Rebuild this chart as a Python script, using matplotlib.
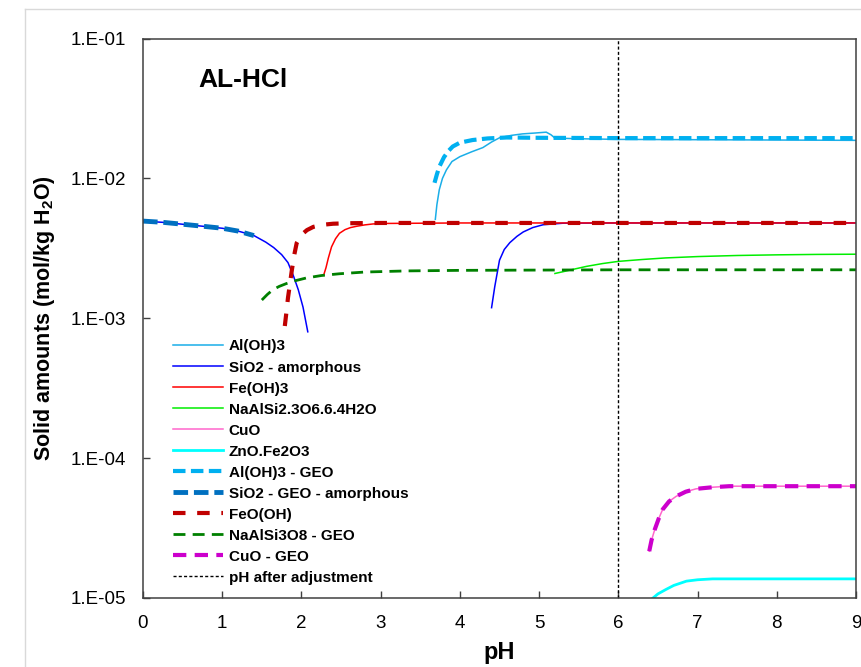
import numpy as np
import matplotlib
matplotlib.use("Agg")
import matplotlib.pyplot as plt
from matplotlib.lines import Line2D

plt.rcParams['font.family'] = ['Liberation Sans', 'DejaVu Sans']
plt.rcParams['mathtext.default'] = 'regular'

# ---------------- data ----------------
aloh3_x = [3.69, 3.71, 3.74, 3.78, 3.83, 3.90, 4.00, 4.15, 4.29, 4.40, 4.50, 4.65, 4.79, 4.95, 5.09, 5.15, 5.20, 5.5, 6, 7, 8, 9]
aloh3_y = [5.1e-3, 6.5e-3, 8.3e-3, 1.0e-2, 1.15e-2, 1.32e-2, 1.43e-2, 1.55e-2, 1.66e-2, 1.82e-2, 1.95e-2, 2.03e-2,
           2.08e-2, 2.11e-2, 2.14e-2, 2.05e-2, 1.94e-2, 1.92e-2, 1.90e-2, 1.89e-2, 1.88e-2, 1.87e-2]

sio2_x1 = [0, 0.25, 0.5, 0.75, 1.0, 1.2, 1.4, 1.55, 1.65, 1.75, 1.83, 1.90, 1.96, 2.02, 2.08]
sio2_y1 = [4.95e-3, 4.85e-3, 4.7e-3, 4.55e-3, 4.4e-3, 4.2e-3, 3.9e-3, 3.5e-3, 3.2e-3, 2.85e-3, 2.5e-3, 2.0e-3,
           1.6e-3, 1.2e-3, 8.0e-4]
sio2_x2 = [4.40, 4.44, 4.50, 4.56, 4.63, 4.72, 4.80, 4.92, 5.05, 5.3, 6, 7, 8, 9]
sio2_y2 = [1.19e-3, 1.68e-3, 2.6e-3, 3.1e-3, 3.47e-3, 3.85e-3, 4.14e-3, 4.45e-3, 4.66e-3, 4.78e-3, 4.8e-3,
           4.8e-3, 4.8e-3, 4.8e-3]

feoh3_x = [2.28, 2.31, 2.34, 2.38, 2.43, 2.48, 2.55, 2.62, 2.70, 2.80, 2.90, 3.0, 4, 5, 6, 7, 8, 9]
feoh3_y = [2.03e-3, 2.3e-3, 2.7e-3, 3.24e-3, 3.7e-3, 4.05e-3, 4.3e-3, 4.45e-3, 4.55e-3, 4.65e-3, 4.72e-3,
           4.76e-3, 4.8e-3, 4.8e-3, 4.8e-3, 4.8e-3, 4.8e-3, 4.8e-3]

na23_x = [5.2, 5.3, 5.45, 5.6, 5.8, 6.0, 6.3, 6.6, 7.0, 7.5, 8, 8.5, 9]
na23_y = [2.09e-3, 2.15e-3, 2.25e-3, 2.35e-3, 2.46e-3, 2.55e-3, 2.63e-3, 2.7e-3, 2.76e-3, 2.81e-3, 2.84e-3,
          2.86e-3, 2.87e-3]

cuo_x = [6.39, 6.42, 6.46, 6.51, 6.56, 6.64, 6.73, 6.85, 6.98, 7.2, 7.4, 8, 9]
cuo_y = [2.16e-5, 2.6e-5, 3.09e-5, 3.7e-5, 4.3e-5, 4.9e-5, 5.33e-5, 5.75e-5, 6.03e-5, 6.2e-5, 6.3e-5,
         6.3e-5, 6.3e-5]

znofe_x = [6.4, 6.5, 6.6, 6.7, 6.86, 7.0, 7.19, 7.5, 8, 9]
znofe_y = [9.6e-6, 1.07e-5, 1.15e-5, 1.23e-5, 1.32e-5, 1.35e-5, 1.37e-5, 1.37e-5, 1.37e-5, 1.37e-5]

aloh3_geo_x = [3.68, 3.71, 3.74, 3.80, 3.86, 3.91, 4.00, 4.16, 4.35, 4.59, 5, 6, 7, 8, 9]
aloh3_geo_y = [9.3e-3, 1.07e-2, 1.21e-2, 1.42e-2, 1.58e-2, 1.69e-2, 1.8e-2, 1.88e-2, 1.93e-2, 1.96e-2,
               1.95e-2, 1.94e-2, 1.94e-2, 1.94e-2, 1.94e-2]

sio2_geo_x = [0, 0.25, 0.5, 0.75, 1.0, 1.2, 1.4]
sio2_geo_y = [4.95e-3, 4.85e-3, 4.7e-3, 4.55e-3, 4.4e-3, 4.2e-3, 3.9e-3]

feooh_x = [1.79, 1.81, 1.83, 1.86, 1.88, 1.91, 1.94, 2.0, 2.07, 2.15, 2.27, 2.4, 2.6, 3, 4, 5, 6, 7, 8, 9]
feooh_y = [8.8e-4, 1.1e-3, 1.4e-3, 1.85e-3, 2.23e-3, 2.85e-3, 3.45e-3, 3.95e-3, 4.27e-3, 4.5e-3, 4.66e-3,
           4.74e-3, 4.78e-3, 4.8e-3, 4.8e-3, 4.8e-3, 4.8e-3, 4.8e-3, 4.8e-3, 4.8e-3]

albite_x = [1.5, 1.57, 1.64, 1.72, 1.81, 1.93, 2.06, 2.25, 2.48, 2.8, 3.33, 4, 5, 6, 7, 8, 9]
albite_y = [1.35e-3, 1.48e-3, 1.6e-3, 1.69e-3, 1.77e-3, 1.86e-3, 1.94e-3, 2.02e-3, 2.08e-3, 2.14e-3, 2.18e-3,
            2.2e-3, 2.21e-3, 2.22e-3, 2.22e-3, 2.22e-3, 2.22e-3]

ph_adjust = 6.0

y_ticks = [1e-5, 1e-4, 1e-3, 1e-2, 1e-1]
y_ticklabels = ['1.E-05', '1.E-04', '1.E-03', '1.E-02', '1.E-01']
x_ticks = [0, 1, 2, 3, 4, 5, 6, 7, 8, 9]

# ---------------- figure ----------------
fig = plt.figure(figsize=(8.61, 6.67), dpi=100)
ax = fig.add_axes([143/861, 1-598/667, 713/861, 559.5/667])

# outer light frame
fig.add_artist(Line2D([25/861, 25/861], [0, 1-9/667], transform=fig.transFigure, color='#D9D9D9', lw=1))
fig.add_artist(Line2D([25/861, 1], [1-9/667, 1-9/667], transform=fig.transFigure, color='#D9D9D9', lw=1))

ax.plot(aloh3_x, aloh3_y, color='#1AAEE8', lw=1.1, label='Al(OH)3')
ax.plot(sio2_x1, sio2_y1, color='#0000FF', lw=1.1, label='SiO2 - amorphous')
ax.plot(sio2_x2, sio2_y2, color='#0000FF', lw=1.1)
ax.plot(feoh3_x, feoh3_y, color='#FF0000', lw=1.1, label='Fe(OH)3')
ax.plot(na23_x, na23_y, color='#00EE00', lw=1.1, label='NaAlSi2.3O6.6.4H2O')
ax.plot(cuo_x, cuo_y, color='#FF66CC', lw=1.1, label='CuO')
ax.plot(znofe_x, znofe_y, color='#00FFFF', lw=2.0, label='ZnO.Fe2O3')
ax.plot(aloh3_geo_x, aloh3_geo_y, color='#00B0F0', lw=3.0, dashes=(3.0, 1.3), label='Al(OH)3 - GEO')
ax.plot(sio2_geo_x, sio2_geo_y, color='#0070C0', lw=3.5, dashes=(3.0, 1.2), label='SiO2 - GEO - amorphous')
ax.plot(feooh_x, feooh_y, color='#C00000', lw=3.0, dashes=(3.0, 2.8), label='FeO(OH)')
ax.plot(albite_x, albite_y, color='#008000', lw=2.0, dashes=(4.3, 2.6), label='NaAlSi3O8 - GEO')
ax.plot(cuo_x, cuo_y, color='#CC00CC', lw=3.0, dashes=(3.2, 2.0), label='CuO - GEO')
ax.axvline(ph_adjust, color='black', lw=1.0, dashes=(2.2, 1.6), label='pH after adjustment')

ax.set_yscale('log')
ax.set_xlim(0, 9)
ax.set_ylim(1e-5, 1e-1)
ax.set_yticks(y_ticks)
ax.set_yticklabels(y_ticklabels)
ax.yaxis.set_minor_locator(matplotlib.ticker.NullLocator())
ax.set_xticks(x_ticks)
ax.tick_params(axis='both', direction='in', length=5, width=1, color='#404040', labelsize=13.5)
ax.tick_params(axis='y', pad=12)
ax.tick_params(axis='x', pad=12)
for sp in ax.spines.values():
    sp.set_color('#404040')
    sp.set_linewidth(1.1)

ax.set_xlabel('pH', fontsize=17, fontweight='bold', labelpad=7)
ax.set_ylabel('Solid amounts (mol/kg H$_2$O)', fontsize=15.5, fontweight='bold', labelpad=10)

ax.text(0.077, 0.925, 'AL-HCl', transform=ax.transAxes, fontsize=19, fontweight='bold', va='center', ha='left')

leg = ax.legend(loc='lower left', bbox_to_anchor=(0.042, 0.0236), frameon=False, borderaxespad=0, borderpad=0,
                handlelength=3.27, handletextpad=0.39, labelspacing=0.46,
                prop={'size': 11, 'weight': 'bold'})

fig.savefig('out.png', dpi=100)
